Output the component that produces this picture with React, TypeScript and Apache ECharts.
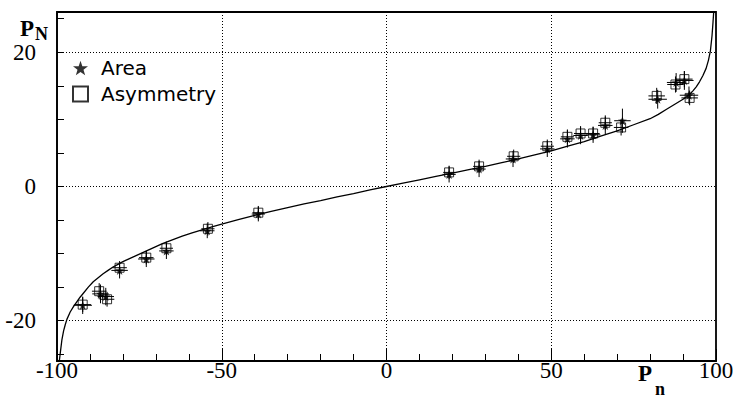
import React, { useEffect, useRef } from "react";
import * as echarts from "echarts";

// Axis tick values
const xTickLabels = [-100, -50, 0, 50, 100];
const yTickLabels = [-20, 0, 20];
const yTicks = [-25, -20, -15, -10, -5, 0, 5, 10, 15, 20, 25];
const gridX = [-50, 0, 50];
const gridY = [-20, 0, 20];

// Theoretical curve
const curveX = [
  -99.3, -99, -98.5, -98, -97.5, -97, -96, -95, -94, -93, -92, -90.5, -89, -87.5, -86, -84.5,
  -83, -81.5, -80, -78, -76, -74, -72, -70, -68, -65, -62, -59, -56, -53, -50, -45, -40, -35,
  -30, -25, -20, -15, -10, -5, 0,
  5, 10, 15, 20, 25, 30, 35, 40, 45, 50, 55, 60, 65, 70, 75, 80, 82.5, 85, 87.5, 90, 91, 92,
  93, 94, 95, 96, 97, 97.7, 98.3, 98.8, 99.1, 99.3,
];
const curveY = [
  -26, -24.8, -22.8, -21.5, -20.6, -19.8, -18.7, -17.9, -17.2, -16.5, -15.9, -15.0, -14.2,
  -13.6, -13.0, -12.5, -12.0, -11.6, -11.2, -10.75, -10.3, -9.85, -9.4, -8.95, -8.5, -7.95,
  -7.4, -6.9, -6.45, -6.0, -5.6, -4.95, -4.3, -3.7, -3.15, -2.6, -2.1, -1.55, -1.05, -0.5, 0,
  0.5, 1.0, 1.5, 2.0, 2.5, 3.0, 3.55, 4.1, 4.7, 5.3, 6.0, 6.7, 7.5, 8.3, 9.2, 10.1, 10.75,
  11.5, 12.25, 13.0, 13.35, 13.75, 14.25, 14.85, 15.6, 16.5, 17.6, 18.8, 20.2, 22.5, 24.5, 26,
];

// Area measurements (stars)
const areaX = [-92.2, -86.8, -85.2, -81.0, -72.9, -66.8, -54.4, -38.9, 19.0, 28.1, 38.4, 48.8, 54.9, 58.9, 62.7, 66.4, 71.6, 82.3, 87.9, 90.4, 91.8];
const areaY = [-17.7, -16.0, -16.4, -12.5, -10.8, -9.6, -6.6, -4.1, 1.8, 2.6, 4.1, 5.6, 7.1, 7.6, 7.7, 9.1, 9.8, 13.0, 15.5, 15.8, 13.6];
const areaEx = [2.8, 2.5, 2.5, 2.5, 2.5, 2.2, 2.2, 2.0, 2.0, 2.0, 2.2, 2.2, 2.2, 2.2, 2.2, 2.2, 2.5, 2.8, 2.8, 2.8, 2.8];
const areaEy = [1.3, 1.4, 1.3, 1.2, 1.2, 1.2, 1.1, 1.1, 1.2, 1.2, 1.2, 1.2, 1.3, 1.3, 1.2, 1.3, 1.8, 1.4, 1.4, 1.4, 1.3];

// Asymmetry measurements (squares)
const asymX = [-92.2, -87.2, -84.8, -81.0, -72.9, -66.8, -54.2, -38.9, 19.0, 28.1, 38.6, 48.8, 54.9, 58.9, 62.7, 66.4, 71.2, 82.0, 87.7, 90.4, 92.0];
const asymY = [-17.6, -15.6, -16.8, -12.1, -10.6, -9.2, -6.3, -3.9, 2.1, 3.0, 4.5, 6.0, 7.4, 7.9, 7.9, 9.5, 8.8, 13.5, 15.2, 16.0, 13.2];
const asymEx = [2.5, 2.2, 2.2, 2.2, 2.2, 2.0, 2.0, 1.8, 1.8, 1.8, 2.0, 2.0, 2.0, 2.0, 2.0, 2.0, 2.2, 2.5, 2.5, 2.5, 2.5];
const asymEy = [1.1, 1.2, 1.1, 1.0, 1.0, 1.0, 1.0, 1.0, 1.0, 1.0, 1.0, 1.0, 1.1, 1.1, 1.0, 1.1, 1.2, 1.2, 1.2, 1.2, 1.1];

const STAR =
  "path://M0,-10L2.35,-3.24L9.51,-3.09L3.8,1.24L5.88,8.09L0,4L-5.88,8.09L-3.8,1.24L-9.51,-3.09L-2.35,-3.24Z";
const SERIF = "'Liberation Serif', 'Times New Roman', serif";
const SANS = "'DejaVu Sans', sans-serif";

function errorBars(xs: number[], ys: number[], exs: number[], eys: number[]) {
  return xs.map((x, i) => [x, ys[i], exs[i], eys[i]]);
}

const renderErr = (params: any, api: any) => {
  const x = api.value(0);
  const y = api.value(1);
  const ex = api.value(2);
  const ey = api.value(3);
  const l = api.coord([x - ex, y]);
  const r = api.coord([x + ex, y]);
  const b = api.coord([x, y - ey]);
  const t = api.coord([x, y + ey]);
  const st = { stroke: "#000", lineWidth: 1 };
  return {
    type: "group",
    children: [
      { type: "line", shape: { x1: l[0], y1: l[1], x2: r[0], y2: r[1] }, style: st },
      { type: "line", shape: { x1: b[0], y1: b[1], x2: t[0], y2: t[1] }, style: st },
    ],
  };
};

export default function App() {
  const ref = useRef<HTMLDivElement>(null);
  useEffect(() => {
    if (!ref.current) return;
    const chart = echarts.init(ref.current, undefined, { renderer: "svg" });
    chart.setOption({
      animation: false,
      backgroundColor: "#fff",
      grid: {
        left: 57,
        right: 24,
        top: 12,
        bottom: 37,
        show: true,
        borderColor: "#000",
        borderWidth: 1.8,
        backgroundColor: "transparent",
      },
      legend: {
        orient: "vertical",
        left: 67,
        top: 53,
        itemWidth: 15,
        itemHeight: 15,
        itemGap: 6,
        selectedMode: false,
        data: [
          { name: "Area", icon: STAR },
          { name: "Asymmetry", icon: "rect" },
        ],
        textStyle: {
          fontFamily: SANS,
          fontSize: 20,
          color: "#000",
          lineHeight: 20,
          padding: [0, 0, 0, 8],
        },
      },
      xAxis: {
        type: "value",
        min: -100,
        max: 100,
        interval: 50,
        axisLine: { show: true, onZero: false, lineStyle: { color: "#000", width: 1.5 } },
        axisTick: { show: true, inside: true, length: 12, lineStyle: { color: "#000", width: 1 } },
        minorTick: { show: true, splitNumber: 5, length: 7, lineStyle: { color: "#000", width: 1 } },
        axisLabel: {
          customValues: xTickLabels,
          fontFamily: SERIF,
          fontSize: 23,
          color: "#000",
          margin: -2,
        },
        splitLine: { show: false },
      },
      yAxis: {
        type: "value",
        min: -26,
        max: 26,
        axisLine: { show: true, onZero: false, lineStyle: { color: "#000", width: 1.5 } },
        axisTick: {
          show: true,
          inside: true,
          length: 7,
          customValues: yTicks,
          lineStyle: { color: "#000", width: 1 },
        },
        axisLabel: {
          customValues: yTickLabels,
          fontFamily: SERIF,
          fontSize: 23,
          lineHeight: 17,
          color: "#000",
          margin: 21,
        },
        splitLine: { show: false },
      },
      graphic: [
        {
          type: "text",
          left: 20,
          top: 17,
          style: { text: "P", fontFamily: SERIF, fontWeight: "bold", fontSize: 23, fill: "#000" },
        },
        {
          type: "text",
          left: 35,
          top: 25,
          style: { text: "N", fontFamily: SERIF, fontWeight: "bold", fontSize: 18, fill: "#000" },
        },
        {
          type: "text",
          left: 638,
          top: 362,
          style: { text: "P", fontFamily: SERIF, fontWeight: "bold", fontSize: 23, fill: "#000" },
        },
        {
          type: "text",
          left: 655,
          top: 380,
          style: { text: "n", fontFamily: SERIF, fontWeight: "bold", fontSize: 18, fill: "#000" },
        },
      ],
      series: [
        {
          name: "curve",
          type: "line",
          data: curveX.map((x, i) => [x, curveY[i]]),
          showSymbol: false,
          symbol: "none",
          clip: true,
          lineStyle: { color: "#000", width: 1.3 },
          z: 2,
          markLine: {
            silent: true,
            symbol: "none",
            label: { show: false },
            lineStyle: { color: "#000", width: 1, type: [1, 2] },
            data: [
              ...gridX.map((v) => ({ xAxis: v })),
              ...gridY.map((v) => ({ yAxis: v })),
            ],
          },
        },
        {
          name: "areaErr",
          type: "custom",
          renderItem: renderErr,
          data: errorBars(areaX, areaY, areaEx, areaEy),
          z: 3,
        },
        {
          name: "asymErr",
          type: "custom",
          renderItem: renderErr,
          data: errorBars(asymX, asymY, asymEx, asymEy),
          z: 3,
        },
        {
          name: "Area",
          type: "scatter",
          symbol: STAR,
          symbolSize: 9,
          data: areaX.map((x, i) => [x, areaY[i]]),
          itemStyle: { color: "#000" },
          z: 4,
        },
        {
          name: "Asymmetry",
          type: "scatter",
          symbol: "rect",
          symbolSize: 9,
          data: asymX.map((x, i) => [x, asymY[i]]),
          itemStyle: { color: "rgba(0,0,0,0)", borderColor: "#000", borderWidth: 1 },
          z: 5,
        },
      ],
    });
    return () => chart.dispose();
  }, []);
  return <div ref={ref} style={{ width: 740, height: 398, position: "absolute", left: 0, top: 0 }} />;
}
